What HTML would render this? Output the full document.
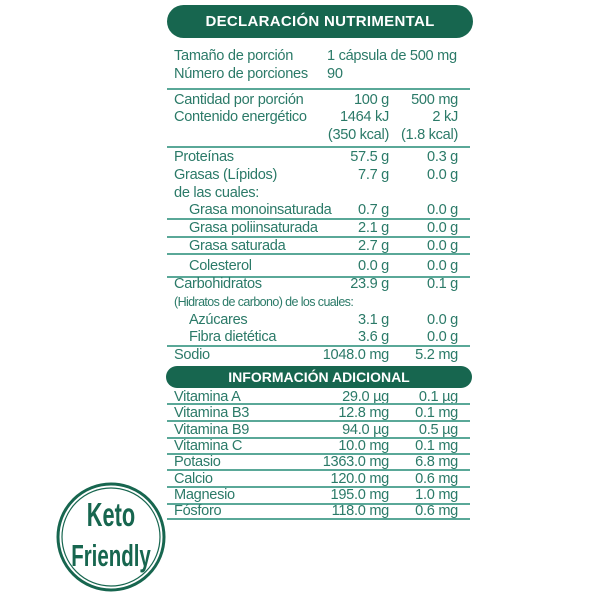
<!DOCTYPE html>
<html><head><meta charset="utf-8"><style>
body{margin:0;background:#fff;width:600px;height:600px;position:relative;overflow:hidden;font-family:"Liberation Sans",sans-serif;color:#2b7a68}
.t{position:absolute;font-size:14.6px;white-space:nowrap;letter-spacing:-0.3px;line-height:16px}
.r{text-align:right}
.l{position:absolute;left:167px;width:303px;height:1.5px;background:#5aa898}
.pill{position:absolute;background:#17664f;color:#fff;font-weight:bold;text-align:center;border-radius:20px}
</style></head><body>
<div class="pill" style="left:167px;top:5px;width:306px;height:33px;line-height:33px;font-size:15px;letter-spacing:0.3px">DECLARACIÓN NUTRIMENTAL</div>
<div class="t" style="left:174px;top:48px">Tamaño de porción</div>
<div class="t" style="left:327px;top:48px">1 cápsula de 500 mg</div>
<div class="t" style="left:174px;top:66px">Número de porciones</div>
<div class="t" style="left:327px;top:66px">90</div>
<div class="l" style="top:88px"></div>
<div id="rows"></div>
<div class="pill" style="left:166px;top:366px;width:306px;height:22px;line-height:22px;font-size:14px;border-radius:12px">INFORMACIÓN ADICIONAL</div>
<svg style="position:absolute;left:0;top:0" width="600" height="600">
<circle cx="111" cy="537" r="53" fill="none" stroke="#17664f" stroke-width="3"/>
<circle cx="111" cy="537" r="49" fill="none" stroke="#17664f" stroke-width="1.2"/>
<text x="111" y="526" text-anchor="middle" font-family="Liberation Sans" font-weight="bold" font-size="33" fill="#17664f" transform="translate(111 0) scale(0.66 1) translate(-111 0)">Keto</text>
<text x="111" y="566" text-anchor="middle" font-family="Liberation Sans" font-weight="bold" font-size="31" fill="#17664f" transform="translate(111 0) scale(0.66 1) translate(-111 0)">Friendly</text>
</svg>
<script>
var R=[
[92,"Cantidad por porción","100 g","500 mg",0],
[109,"Contenido energético","1464 kJ","2 kJ",0],
[127,"","(350 kcal)","(1.8 kcal)",0],
[146,null],
[149,"Proteínas","57.5 g","0.3 g",0],
[167,"Grasas (Lípidos)","7.7 g","0.0 g",0],
[185,"de las cuales:","","",0],
[202,"Grasa monoinsaturada","0.7 g","0.0 g",1],[218,null],
[220,"Grasa poliinsaturada","2.1 g","0.0 g",1],[236,null],
[238,"Grasa saturada","2.7 g","0.0 g",1],[253,null],
[258,"Colesterol","0.0 g","0.0 g",1],[276,null],
[276,"Carbohidratos","23.9 g","0.1 g",0],
[294,"(Hidratos de carbono) de los cuales:","","",2],
[312,"Azúcares","3.1 g","0.0 g",1],
[329,"Fibra dietética","3.6 g","0.0 g",1],[345,null],
[347,"Sodio","1048.0 mg","5.2 mg",0],
[389,"Vitamina A","29.0 µg","0.1 µg",0],[403,null],
[405,"Vitamina B3","12.8 mg","0.1 mg",0],[420,null],
[422,"Vitamina B9","94.0 µg","0.5 µg",0],[437,null],
[438,"Vitamina C","10.0 mg","0.1 mg",0],[453,null],
[454,"Potasio","1363.0 mg","6.8 mg",0],[469,null],
[471,"Calcio","120.0 mg","0.6 mg",0],[486,null],
[487,"Magnesio","195.0 mg","1.0 mg",0],[503,null],
[503,"Fósforo","118.0 mg","0.6 mg",0],[518,null]];
var h="";
R.forEach(function(r){
 if(r[1]===null){h+='<div class="l" style="top:'+r[0]+'px"></div>';return;}
 var x=r[4]==1?189:174, fs=r[4]==2?'font-size:12.5px;letter-spacing:-0.6px;':'';
 h+='<div class="t" style="left:'+x+'px;top:'+r[0]+'px;'+fs+'">'+r[1]+'</div>';
 if(r[2])h+='<div class="t r" style="left:289px;width:100px;top:'+r[0]+'px">'+r[2]+'</div>';
 if(r[3])h+='<div class="t r" style="left:358px;width:100px;top:'+r[0]+'px">'+r[3]+'</div>';
});
document.getElementById("rows").innerHTML=h;
</script>
</body></html>
